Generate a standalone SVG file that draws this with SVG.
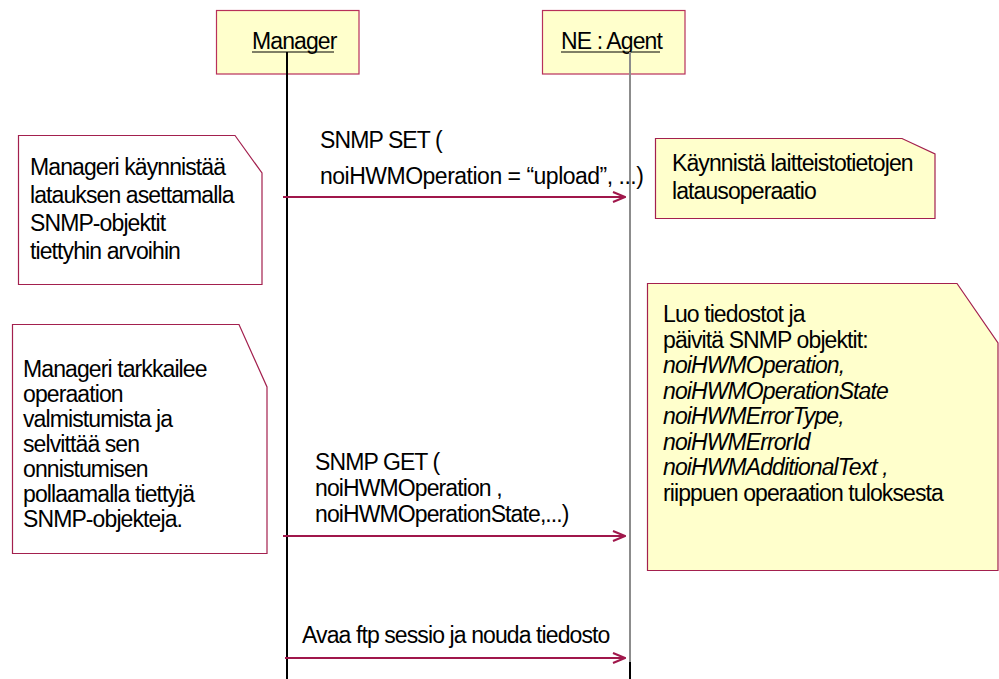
<svg xmlns="http://www.w3.org/2000/svg" width="999" height="679" viewBox="0 0 999 679">
  <style>
    text { font-family: "Liberation Sans", Arial, sans-serif; font-size: 23px; letter-spacing: -0.9px; fill: #000; }
    .it { font-style: italic; }
    .obj { fill: #ffffcc; stroke: #b8305a; stroke-width: 1.2; }
    .note { fill: #ffffff; stroke: #a3204e; stroke-width: 1.2; }
    .noteY { fill: #ffffcc; stroke: #a3204e; stroke-width: 1.2; }
    .msg { stroke: #a0174b; stroke-width: 2; fill: none; }
    .ul { stroke: #000; stroke-width: 1; }
  </style>
  <defs>
    <marker id="open" viewBox="0 0 14 12" refX="13" refY="6" markerWidth="14" markerHeight="12" markerUnits="userSpaceOnUse" orient="auto">
      <path d="M1,1 L13,6 L1,11" fill="none" stroke="#a0174b" stroke-width="2"/>
    </marker>
  </defs>
  <rect width="999" height="679" fill="#ffffff"/>

  <!-- object boxes -->
  <g id="manager">
    <rect class="obj" x="216.5" y="10.5" width="142.5" height="63.5"/>
    <text x="252" y="49">Manager</text>
    <line class="ul" x1="252" y1="52" x2="334" y2="52"/>
  </g>
  <g id="agent">
    <rect class="obj" x="542.5" y="10.5" width="142.5" height="63.5"/>
    <text x="561" y="49">NE : Agent</text>
    <line class="ul" x1="561" y1="52" x2="660" y2="52"/>
  </g>

  <!-- lifelines -->
  <g id="lifelines">
    <line x1="287" y1="52" x2="287" y2="679" stroke="#000" stroke-width="2"/>
    <line x1="630" y1="52" x2="630" y2="662" stroke="#8c8c8c" stroke-width="2"/>
    <line x1="630" y1="662" x2="630" y2="679" stroke="#000" stroke-width="2"/>
  </g>

  <!-- notes -->
  <g id="note-start">
    <path class="note" d="M18.5,135.5 H235 L262,173 V284.5 H18.5 Z"/>
    <text x="30" y="175">Manageri käynnistää</text>
    <text x="30" y="203">latauksen asettamalla</text>
    <text x="30" y="231">SNMP-objektit</text>
    <text x="30" y="259">tiettyhin arvoihin</text>
  </g>
  <g id="note-upload">
    <path class="noteY" d="M655.5,138.5 H902 L935,154 V218.5 H655.5 Z"/>
    <text x="672" y="171">Käynnistä laitteistotietojen</text>
    <text x="672" y="199">latausoperaatio</text>
  </g>
  <g id="note-poll">
    <path class="note" d="M12.5,324.5 H239 L267,387 V553.5 H12.5 Z"/>
    <text x="23" y="377">Manageri tarkkailee</text>
    <text x="23" y="402">operaation</text>
    <text x="23" y="427">valmistumista ja</text>
    <text x="23" y="452">selvittää sen</text>
    <text x="23" y="477">onnistumisen</text>
    <text x="23" y="502">pollaamalla tiettyjä</text>
    <text x="23" y="527">SNMP-objekteja.</text>
  </g>
  <g id="note-files">
    <path class="noteY" d="M647.5,283.5 H957 L998,343 V570.5 H647.5 Z"/>
    <text x="663" y="322">Luo tiedostot ja</text>
    <text x="663" y="347.5">päivitä SNMP objektit:</text>
    <text class="it" x="663" y="373">noiHWMOperation,</text>
    <text class="it" x="663" y="398.5">noiHWMOperationState</text>
    <text class="it" x="663" y="424">noiHWMErrorType,</text>
    <text class="it" x="663" y="449.5">noiHWMErrorId</text>
    <text class="it" x="663" y="475">noiHWMAdditionalText ,</text>
    <text x="663" y="500.5">riippuen operaation tuloksesta</text>
  </g>

  <!-- messages -->
  <g id="connectors">
    <line class="msg" x1="283" y1="197" x2="625" y2="197" marker-end="url(#open)"/>
    <line class="msg" x1="283" y1="536" x2="625" y2="536" marker-end="url(#open)"/>
    <line class="msg" x1="285" y1="658" x2="625" y2="658" marker-end="url(#open)"/>
  </g>
  <g id="labels">
    <text x="320" y="148">SNMP SET (</text>
    <text x="320" y="184" style="letter-spacing:-0.5px">noiHWMOperation = “upload”, ...)</text>
    <text x="315" y="470">SNMP GET (</text>
    <text x="315" y="496">noiHWMOperation ,</text>
    <text x="315" y="522">noiHWMOperationState,...)</text>
    <text x="302" y="643">Avaa ftp sessio ja nouda tiedosto</text>
  </g>
</svg>
